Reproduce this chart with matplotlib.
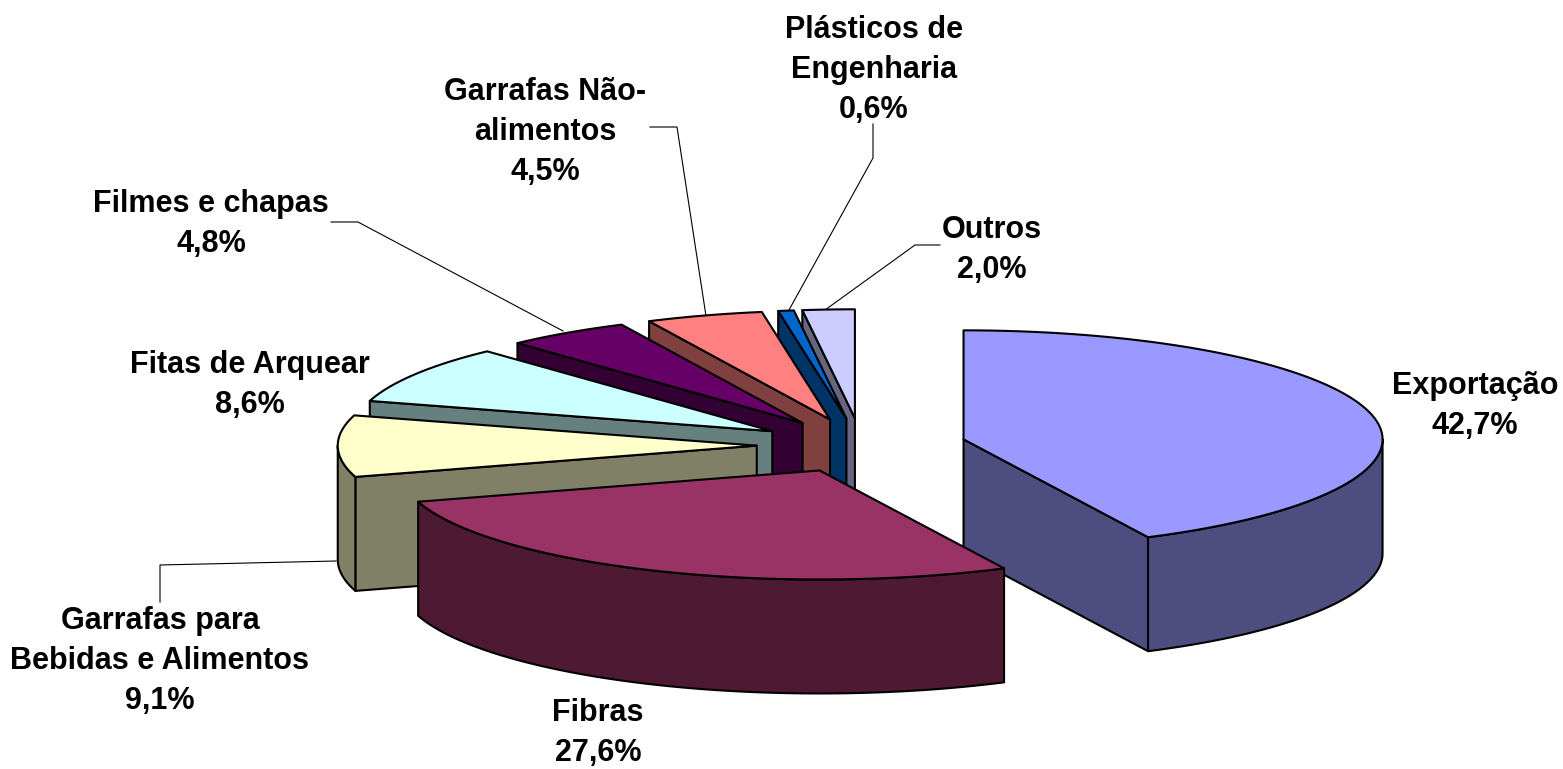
"""Pizza 3D explodida - consumo por segmento."""
import numpy as np
import matplotlib
matplotlib.use("Agg")
import matplotlib.pyplot as plt
from matplotlib.patches import Polygon

plt.rcParams["font.family"] = ["Liberation Sans", "DejaVu Sans"]

categories = ["Exportação", "Fibras", "Garrafas para\nBebidas e Alimentos", "Fitas de Arquear",
              "Filmes e chapas", "Garrafas Não-\nalimentos", "Plásticos de\nEngenharia", "Outros"]
values = [42.7, 27.6, 9.1, 8.6, 4.8, 4.5, 0.6, 2.0]
top_colors = ["#9999FF", "#993366", "#FFFFCC", "#CCFFFF", "#660066", "#FF8080", "#0066CC", "#CCCCFF"]
wall_colors = ["#4D4D80", "#4D1933", "#808066", "#668080", "#330033", "#804040", "#003366", "#666680"]

# label centres in pixels
label_pos = [(1475, 406), (598, 733), (160, 661), (250, 385), (211, 224), (545, 132), (874, 70), (992, 250)]
# leader line elbows, pixel coords
leaders = [
    None, None,
    [(160, 602), (160, 565), (336, 561)],
    None,
    [(331, 222), (358, 222), (563, 331)],
    [(650, 127), (677, 127), (706, 316)],
    [(873, 124), (873, 158), (789, 310)],
    [(940, 245), (915, 245), (825, 310)],
]

CX, CY = 861.5, 445.5   # pie centre
RX, RY = 419, 109       # ellipse radii
DEPTH = 114
EXPLODE = 0.25
LW = 1.5


def pt(a, cx, cy, dz=0):
    # a in degrees, clockwise from top
    r = np.radians(a)
    return cx + RX * np.sin(r), cy - RY * np.cos(r) + dz


def arc(a0, a1, cx, cy, dz=0):
    n = max(int(abs(a1 - a0)) * 2, 2)
    return [pt(a, cx, cy, dz) for a in np.linspace(a0, a1, n)]


fig = plt.figure(figsize=(15.63, 7.69), dpi=100)
ax = fig.add_axes([0, 0, 1, 1])
ax.set_xlim(0, 1563)
ax.set_ylim(769, 0)
ax.axis("off")

total = sum(values)
edges = np.concatenate([[0], np.cumsum(values) / total * 360])
mids = (edges[:-1] + edges[1:]) / 2

# back to front
order = np.argsort(-np.cos(np.radians(mids)))
for z, i in enumerate(order):
    a0, a1 = edges[i], edges[i + 1]
    m = np.radians(mids[i])
    cx = CX + EXPLODE * RX * np.sin(m)
    cy = CY - EXPLODE * RY * np.cos(m)
    kw = dict(edgecolor="black", linewidth=LW, joinstyle="round", zorder=3 + z)
    # radial walls
    for a, show in ((a0, np.sin(np.radians(a0)) < -1e-9), (a1, np.sin(np.radians(a1)) > 1e-9)):
        if show:
            p = pt(a, cx, cy)
            q = pt(a, cx, cy, DEPTH)
            ax.add_patch(Polygon([(cx, cy), p, q, (cx, cy + DEPTH)], facecolor=wall_colors[i], **kw))
    # outer wall, front part of the rim only
    w0, w1 = max(a0, 90), min(a1, 270)
    if w1 > w0:
        ax.add_patch(Polygon(arc(w0, w1, cx, cy) + arc(w1, w0, cx, cy, DEPTH), facecolor=wall_colors[i], **kw))
    # top face
    ax.add_patch(Polygon([(cx, cy)] + arc(a0, a1, cx, cy), facecolor=top_colors[i], **kw))

for path in leaders:
    if path:
        xs, ys = zip(*path)
        ax.plot(xs, ys, color="black", linewidth=0.8, zorder=2)

for name, v, (x, y) in zip(categories, values, label_pos):
    txt = f"{name}\n{v:.1f}%".replace(".", ",")
    ax.text(x, y, txt, ha="center", va="center", fontsize=22, fontweight="bold",
            linespacing=1.45, color="black", zorder=20)

fig.savefig("out.png", dpi=100, facecolor="white")
